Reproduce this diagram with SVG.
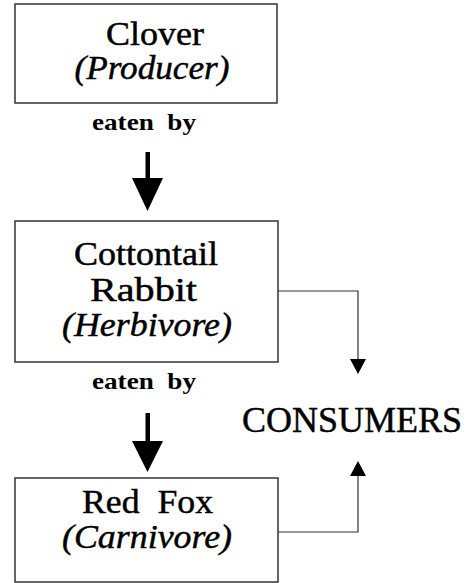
<svg xmlns="http://www.w3.org/2000/svg" width="469" height="583" viewBox="0 0 469 583">
<defs>
<style>
.box{fill:#fff;stroke:#333;stroke-width:1.5}
.t{font-family:"Liberation Serif","Times New Roman",serif;font-size:33px;fill:#000;stroke:#000;stroke-width:0.45;text-anchor:middle}
.i{font-style:italic}
.e{font-family:"Liberation Serif","Times New Roman",serif;font-size:24px;font-weight:bold;fill:#000;text-anchor:middle}
.c{font-family:"Liberation Serif","Times New Roman",serif;font-size:36px;fill:#000;stroke:#000;stroke-width:0.45}
.ln{fill:none;stroke:#333;stroke-width:1.2}
.ah{fill:#000}
</style>
</defs>
<g id="clover">
<rect class="box" x="15" y="4" width="262" height="99"/>
<text class="t" x="155" y="45" textLength="98" lengthAdjust="spacingAndGlyphs">Clover</text>
<text class="t i" x="152" y="79" textLength="155" lengthAdjust="spacingAndGlyphs">(Producer)</text>
</g>
<g id="rabbit">
<rect class="box" x="15" y="221" width="263" height="141"/>
<text class="t" x="146" y="265" textLength="144" lengthAdjust="spacingAndGlyphs">Cottontail</text>
<text class="t" x="143.5" y="301" textLength="107" lengthAdjust="spacingAndGlyphs">Rabbit</text>
<text class="t i" x="147" y="336" textLength="170" lengthAdjust="spacingAndGlyphs">(Herbivore)</text>
</g>
<g id="fox">
<rect class="box" x="15" y="478" width="263" height="104"/>
<text class="t" x="147.5" y="513" xml:space="preserve" textLength="131" lengthAdjust="spacingAndGlyphs">Red  Fox</text>
<text class="t i" x="147" y="548" textLength="170" lengthAdjust="spacingAndGlyphs">(Carnivore)</text>
</g>
<g id="consumers">
<text class="c" x="242" y="432" textLength="220" lengthAdjust="spacingAndGlyphs">CONSUMERS</text>
</g>
<g id="connectors">
<text class="e" x="144" y="130" xml:space="preserve" textLength="104" lengthAdjust="spacingAndGlyphs">eaten  by</text>
<rect class="ah" x="145.5" y="152" width="4.5" height="28"/>
<path class="ah" d="M132,178 L163,178 L147.5,211 Z"/>
<text class="e" x="144" y="389" xml:space="preserve" textLength="104" lengthAdjust="spacingAndGlyphs">eaten  by</text>
<rect class="ah" x="145.5" y="413" width="4.5" height="30"/>
<path class="ah" d="M132,441 L163,441 L147.5,472 Z"/>
<polyline class="ln" points="278,291 358,291 358,360"/>
<path class="ah" d="M350,359 L366,359 L358,374 Z"/>
<polyline class="ln" points="278,532 358,532 358,476"/>
<path class="ah" d="M350,476 L366,476 L358,461 Z"/>
</g>
</svg>
